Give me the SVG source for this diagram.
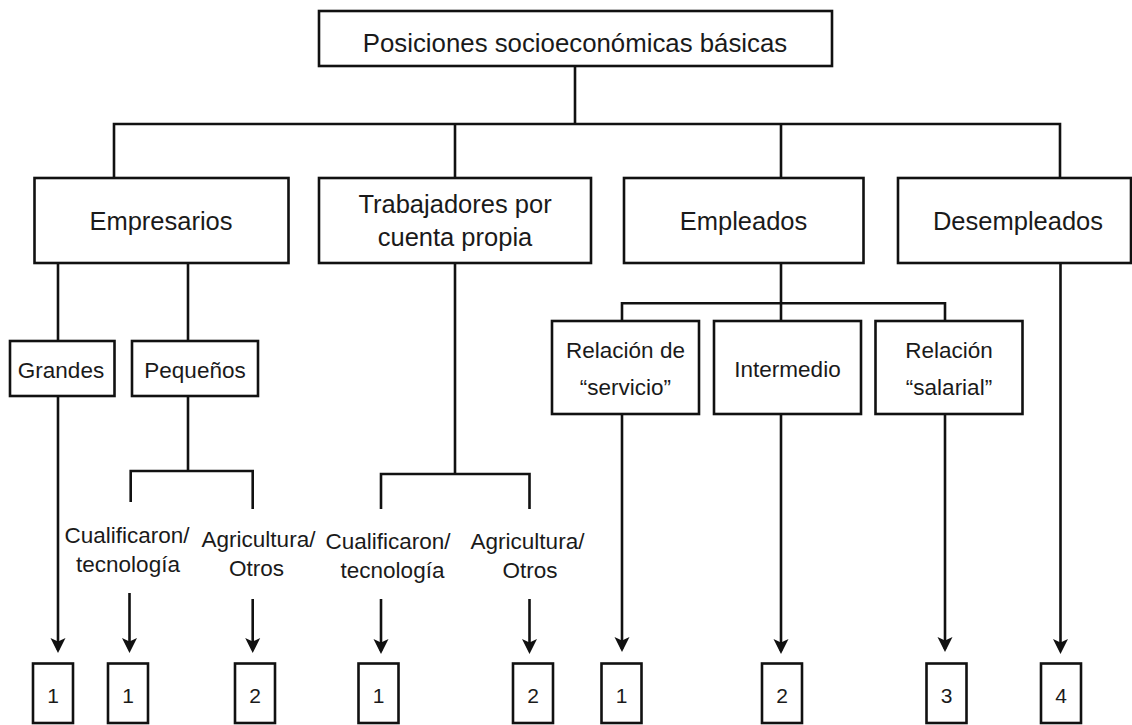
<svg xmlns="http://www.w3.org/2000/svg" width="1132" height="725" viewBox="0 0 1132 725">
<style>
.box{fill:#fff;stroke:#111;stroke-width:2.6}
.ln{fill:none;stroke:#111;stroke-width:2.6;stroke-linejoin:miter}
.arr{fill:none;stroke:#111;stroke-width:2.6;marker-end:url(#ah)}
text{font-family:"Liberation Sans",Arial,sans-serif;fill:#1a1a1a;text-anchor:middle}
.t1{font-size:25.8px}
.t2{font-size:25.5px}
.t3{font-size:22.5px}
.t4{font-size:21px}
</style>
<defs>
<marker id="ah" markerUnits="userSpaceOnUse" markerWidth="16" markerHeight="16" viewBox="0 -8 16 16" refX="12" refY="0" orient="auto">
<path d="M0,-7.5 L15,0 L0,7.5 L3.5,0 Z" fill="#111"/>
</marker>
</defs>
<rect width="1132" height="725" fill="#fff"/>
<g id="connectors">
<path class="ln" d="M575,66 V124"/>
<path class="ln" d="M114,178 V124 H1060 V178"/>
<path class="ln" d="M455,124 V178"/>
<path class="ln" d="M781,124 V178"/>
<path class="ln" d="M58,263 V341"/>
<path class="ln" d="M188,263 V341"/>
<path class="ln" d="M188,396 V471"/>
<path class="ln" d="M130.7,502 V471 H252.7 V509"/>
<path class="ln" d="M455,263 V474"/>
<path class="ln" d="M381,509 V474 H529.5 V509"/>
<path class="ln" d="M781,263 V321"/>
<path class="ln" d="M622,321 V303.3 H945 V321"/>
<path class="arr" d="M58,396 V650"/>
<path class="arr" d="M129.5,593 V650"/>
<path class="arr" d="M252.7,599 V650"/>
<path class="arr" d="M381,599 V651"/>
<path class="arr" d="M529.5,599 V651"/>
<path class="arr" d="M622,414 V649"/>
<path class="arr" d="M781,414 V651"/>
<path class="arr" d="M945,414 V649"/>
<path class="arr" d="M1060.5,263 V651"/>
</g>
<g id="root">
<rect class="box" x="319" y="11" width="513" height="55"/>
<text class="t1" x="575" y="51.5">Posiciones socioeconómicas básicas</text>
</g>
<g id="empresarios">
<rect class="box" x="34.5" y="178" width="254" height="85"/>
<text class="t2" x="161" y="230">Empresarios</text>
</g>
<g id="trabajadores">
<rect class="box" x="319" y="178" width="272" height="85"/>
<text class="t2" x="455" y="213.3">Trabajadores por</text>
<text class="t2" x="455" y="245.7">cuenta propia</text>
</g>
<g id="empleados">
<rect class="box" x="624" y="178" width="239.5" height="85"/>
<text class="t2" x="743.5" y="230">Empleados</text>
</g>
<g id="desempleados">
<rect class="box" x="898" y="178" width="233" height="85"/>
<text class="t2" x="1018" y="230">Desempleados</text>
</g>
<g id="grandes">
<rect class="box" x="10" y="341" width="104.5" height="55"/>
<text class="t3" x="61" y="378.3">Grandes</text>
</g>
<g id="pequenos">
<rect class="box" x="132" y="341" width="126" height="55"/>
<text class="t3" x="195" y="378.3">Pequeños</text>
</g>
<g id="relacion-servicio">
<rect class="box" x="552" y="321" width="147" height="93"/>
<text class="t3" x="625.5" y="358">Relación de</text>
<text class="t3" x="625.5" y="394.5">“servicio”</text>
</g>
<g id="intermedio">
<rect class="box" x="714" y="321" width="147" height="93"/>
<text class="t3" x="787.5" y="376.7">Intermedio</text>
</g>
<g id="relacion-salarial">
<rect class="box" x="875.5" y="321" width="147" height="93"/>
<text class="t3" x="949" y="358">Relación</text>
<text class="t3" x="949" y="394.5">“salarial”</text>
</g>
<g id="peq-cualificaron">
<text class="t3" x="127" y="543">Cualificaron/</text>
<text class="t3" x="128" y="571.5">tecnología</text>
</g>
<g id="peq-agricultura">
<text class="t3" x="258.5" y="547">Agricultura/</text>
<text class="t3" x="256.5" y="576">Otros</text>
</g>
<g id="cp-cualificaron">
<text class="t3" x="388" y="549">Cualificaron/</text>
<text class="t3" x="392.5" y="578">tecnología</text>
</g>
<g id="cp-agricultura">
<text class="t3" x="527.5" y="549">Agricultura/</text>
<text class="t3" x="530" y="578">Otros</text>
</g>
<g id="n1"><rect class="box" x="33" y="663.5" width="40" height="59.5"/><text class="t4" x="53" y="703">1</text></g>
<g id="n2"><rect class="box" x="108" y="663.5" width="40" height="59.5"/><text class="t4" x="128" y="703">1</text></g>
<g id="n3"><rect class="box" x="235" y="663.5" width="40" height="59.5"/><text class="t4" x="255" y="703">2</text></g>
<g id="n4"><rect class="box" x="358.5" y="663.5" width="40" height="59.5"/><text class="t4" x="378.5" y="703">1</text></g>
<g id="n5"><rect class="box" x="513" y="663.5" width="40" height="59.5"/><text class="t4" x="533" y="703">2</text></g>
<g id="n6"><rect class="box" x="601.5" y="663.5" width="40" height="59.5"/><text class="t4" x="621.5" y="703">1</text></g>
<g id="n7"><rect class="box" x="762" y="663.5" width="40" height="59.5"/><text class="t4" x="782" y="703">2</text></g>
<g id="n8"><rect class="box" x="926.5" y="663.5" width="40" height="59.5"/><text class="t4" x="946.5" y="703">3</text></g>
<g id="n9"><rect class="box" x="1041" y="663.5" width="40" height="59.5"/><text class="t4" x="1061" y="703">4</text></g>
</svg>
